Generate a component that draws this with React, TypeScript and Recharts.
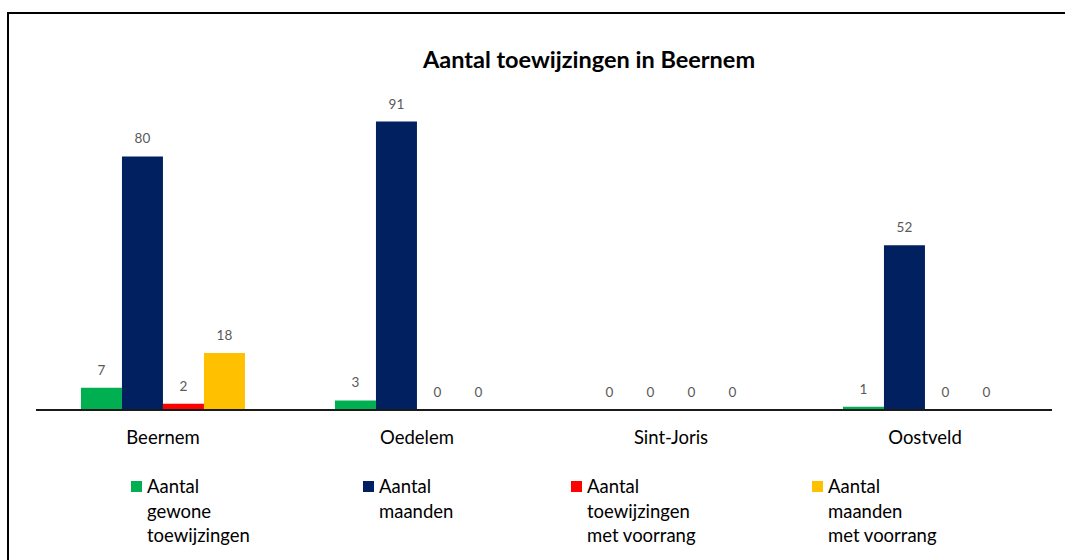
import React from "react";
import { BarChart, Bar, XAxis, YAxis, LabelList, Legend } from "recharts";

const categories = ["Beernem", "Oedelem", "Sint-Joris", "Oostveld"];
const gewoneToewijzingen = [7, 3, 0, 1];
const maanden = [80, 91, 0, 52];
const toewijzingenVoorrang = [2, 0, 0, 0];
const maandenVoorrang = [18, 0, 0, 0];

const seriesNames = [
  ["Aantal", "gewone", "toewijzingen"],
  ["Aantal", "maanden"],
  ["Aantal", "toewijzingen", "met voorrang"],
  ["Aantal", "maanden", "met voorrang"],
];

const data = categories.map((name, i) => ({
  name,
  gewone: gewoneToewijzingen[i],
  maanden: maanden[i],
  voorrang: toewijzingenVoorrang[i],
  maandenVoorrang: maandenVoorrang[i],
}));

const FONT = "Lato, 'Open Sans', sans-serif";

const series = [
  { key: "gewone", color: "#00B050", lines: seriesNames[0] },
  { key: "maanden", color: "#002060", lines: seriesNames[1] },
  { key: "voorrang", color: "#FF0000", lines: seriesNames[2] },
  { key: "maandenVoorrang", color: "#FFC000", lines: seriesNames[3] },
];

// legend column x positions (marker left edge)
const legendX = [131, 363, 571, 812];

function LegendContent() {
  return (
    <div style={{ position: "relative", width: 1065, height: 90 }}>
      {series.map((s, i) => (
        <div
          key={s.key}
          style={{
            position: "absolute",
            left: legendX[i],
            top: 4,
            display: "flex",
            fontFamily: FONT,
            fontSize: 18.5,
            lineHeight: "24.5px",
            color: "#000",
          }}
        >
          <div style={{ width: 11, height: 11, background: s.color, marginTop: 7, marginRight: 5 }} />
          <div>
            {s.lines.map((l) => (
              <div key={l}>{l}</div>
            ))}
          </div>
        </div>
      ))}
    </div>
  );
}

const BarValue = (p: any) => (
  <text
    x={p.x + p.width / 2}
    y={p.y - 13}
    textAnchor="middle"
    fill="#595959"
    fontSize={13.5}
    fontFamily={FONT}
  >
    {p.value}
  </text>
);

// keep zero bars in the layout so their "0" labels are drawn
const zeroSize = (v: any) => (v === 0 ? 0.5 : 0);

export default function App() {
  return (
    <div style={{ position: "fixed", left: 0, top: 0, width: 1065, height: 560, overflow: "hidden", background: "#fff" }}>
      <svg width={1065} height={560} style={{ position: "absolute", left: 0, top: 0 }}>
        <path d="M8 560 V13 H1065" fill="none" stroke="#000" strokeWidth={2} />
      </svg>
      <div
        style={{
          position: "absolute",
          left: 0,
          width: 1178,
          top: 45,
          textAlign: "center",
          fontFamily: FONT,
          fontWeight: 700,
          fontSize: 23.5,
          color: "#000",
        }}
      >
        Aantal toewijzingen in Beernem
      </div>
      <BarChart
        width={1065}
        height={560}
        data={data}
        margin={{ top: 93, right: 13, left: 36, bottom: 0 }}
        barCategoryGap="17.7%"
        barGap={0}
        style={{ position: "absolute", left: 0, top: 0 }}
      >
        <YAxis hide domain={[0, 100]} />
        <XAxis
          dataKey="name"
          height={60}
          tickLine={false}
          axisLine={{ stroke: "#1a1a1a", strokeWidth: 2 }}
          tick={{ fill: "#000", fontSize: 18.5, fontFamily: FONT }}
          tickMargin={15}
        />
        <Legend
          verticalAlign="bottom"
          content={<LegendContent />}
          wrapperStyle={{ left: 0, bottom: 0, width: 1065, height: 90 }}
        />
        {series.map((s) => (
          <Bar key={s.key} dataKey={s.key} fill={s.color} minPointSize={zeroSize} isAnimationActive={false}>
            <LabelList dataKey={s.key} content={BarValue} />
          </Bar>
        ))}
      </BarChart>
    </div>
  );
}
